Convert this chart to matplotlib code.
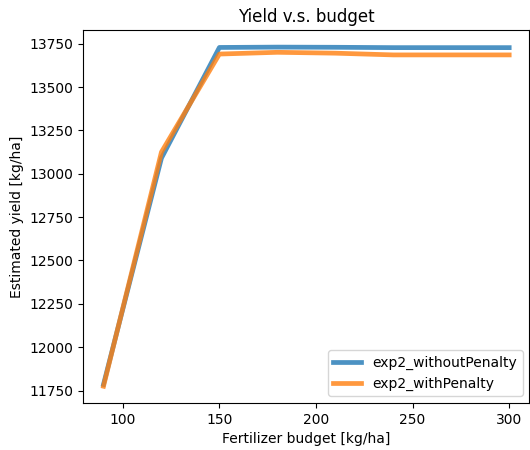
import matplotlib
matplotlib.use("Agg")
import matplotlib.pyplot as plt

budget = [90, 120, 150, 180, 210, 240, 270, 300]
yield_without_penalty = [11785, 13090, 13728, 13730, 13729, 13727, 13727, 13727]
yield_with_penalty = [11775, 13125, 13690, 13700, 13695, 13685, 13685, 13685]

fig = plt.figure(figsize=(5.3, 4.5), dpi=100)
ax = fig.add_axes([0.157, 0.104, 0.842, 0.829])

ax.plot(budget, yield_without_penalty, color="tab:blue", lw=3.4, alpha=0.8,
        label="exp2_withoutPenalty")
ax.plot(budget, yield_with_penalty, color="tab:orange", lw=3.4, alpha=0.8,
        label="exp2_withPenalty")

ax.set_yticks([11750, 12000, 12250, 12500, 12750, 13000, 13250, 13500, 13750])
ax.set_title("Yield v.s. budget")
ax.set_xlabel("Fertilizer budget [kg/ha]")
ax.set_ylabel("Estimated yield [kg/ha]")
ax.legend(loc="lower right")

fig.savefig("out.png", dpi=100)
